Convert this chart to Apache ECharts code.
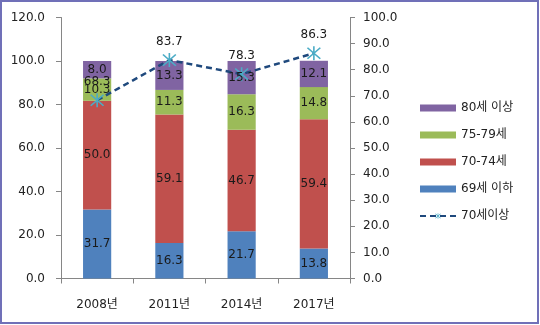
<!DOCTYPE html>
<html><head><meta charset="utf-8">
<script src="https://cdn.jsdelivr.net/npm/echarts@6/dist/echarts.min.js"></script>
<style>html,body{margin:0;padding:0;background:#fff}#c{width:540px;height:325px}</style>
</head><body><div id="c"></div>
<script>
var categories = ['2008년', '2011년', '2014년', '2017년'];
var s69 = [31.7, 16.3, 21.7, 13.8];
var s7074 = [50.0, 59.1, 46.7, 59.4];
var s7579 = [10.3, 11.3, 16.3, 14.8];
var s80 = [8.0, 13.3, 15.3, 12.1];
var s70plus = [68.3, 83.7, 78.3, 86.3];
var leftTicks = [0, 20, 40, 60, 80, 100, 120];
var rightTicks = [0, 10, 20, 30, 40, 50, 60, 70, 80, 90, 100];

var FONT = "'DejaVu Sans','Noto Sans CJK KR',sans-serif";
var star = 'path://M9,0L11,0L11,20L9,20Z M2.7,1.3L18.7,17.3L17.3,18.7L1.3,2.7Z M18.7,2.7L2.7,18.7L1.3,17.3L17.3,1.3Z';
var chart = echarts.init(document.getElementById('c'), null, {renderer: 'canvas'});
var labelCfg = {show: true, position: 'inside', color: '#1a1a1a', fontSize: 12, fontFamily: FONT,
  formatter: function (p) { return p.value.toFixed(1); }};
function barSeries(name, data, color) {
  return {
    name: name, type: 'bar', stack: 'a', data: data, barWidth: '39%', barGap: '-100%',
    itemStyle: {color: color}, label: {show: false}, z: 2
  };
}
function labelSeries(name, data) {
  return {
    name: name, type: 'bar', stack: 'lab', data: data, barWidth: '39%', barGap: '-100%',
    itemStyle: {color: 'rgba(0,0,0,0)'}, label: labelCfg, z: 10, silent: true
  };
}
var axisText = {color: '#222', fontSize: 12, fontFamily: FONT};
chart.setOption({
  animation: false,
  textStyle: {fontFamily: FONT},
  graphic: [{type: 'rect', shape: {x: 1, y: 1, width: 537, height: 322},
    style: {fill: 'none', stroke: '#7070b8', lineWidth: 2}, silent: true, z: 100}],
  grid: {left: 61, right: 190, top: 17.5, bottom: 46.5},
  legend: {
    orient: 'vertical', left: 414, top: 97, itemGap: 15, itemWidth: 36, itemHeight: 7,
    textStyle: {color: '#222', fontSize: 12, fontFamily: FONT},
    data: [
      {name: '80세 이상', icon: 'rect'},
      {name: '75-79세', icon: 'rect'},
      {name: '70-74세', icon: 'rect'},
      {name: '69세 이하', icon: 'rect'},
      {name: '70세이상'}
    ]
  },
  xAxis: {
    type: 'category', data: categories,
    axisLine: {lineStyle: {color: '#868686'}},
    axisTick: {show: true, length: 5, lineStyle: {color: '#868686'}},
    axisLabel: Object.assign({margin: 20}, axisText)
  },
  yAxis: [{
    type: 'value', min: leftTicks[0], max: leftTicks[leftTicks.length - 1], interval: 20,
    axisLine: {show: true, lineStyle: {color: '#868686'}},
    axisTick: {show: true, length: 5, lineStyle: {color: '#868686'}},
    splitLine: {show: false},
    axisLabel: Object.assign({margin: 16, formatter: function (v) { return v.toFixed(1); }}, axisText)
  }, {
    type: 'value', min: rightTicks[0], max: rightTicks[rightTicks.length - 1], interval: 10,
    position: 'right',
    axisLine: {show: true, lineStyle: {color: '#868686'}},
    axisTick: {show: true, length: 5, lineStyle: {color: '#868686'}},
    splitLine: {show: false},
    axisLabel: Object.assign({margin: 13, formatter: function (v) { return v.toFixed(1); }}, axisText)
  }],
  series: [
    barSeries('69세 이하', s69, '#4F81BD'),
    barSeries('70-74세', s7074, '#C0504D'),
    barSeries('75-79세', s7579, '#9BBB59'),
    barSeries('80세 이상', s80, '#8064A2'),
    labelSeries('_l69', s69),
    labelSeries('_l7074', s7074),
    labelSeries('_l7579', s7579),
    labelSeries('_l80', s80),
    {
      name: '70세이상', type: 'line', yAxisIndex: 1, data: s70plus,
      symbol: star, symbolSize: 14,
      itemStyle: {color: '#4BACC6'},
      lineStyle: {color: '#1F497D', width: 2.5, type: [6, 4]},
      label: {show: true, position: 'top', distance: 5, color: '#1a1a1a', fontSize: 12, fontFamily: FONT,
        formatter: function (p) { return p.value.toFixed(1); }},
      z: 5
    }
  ]
});
</script></body></html>
